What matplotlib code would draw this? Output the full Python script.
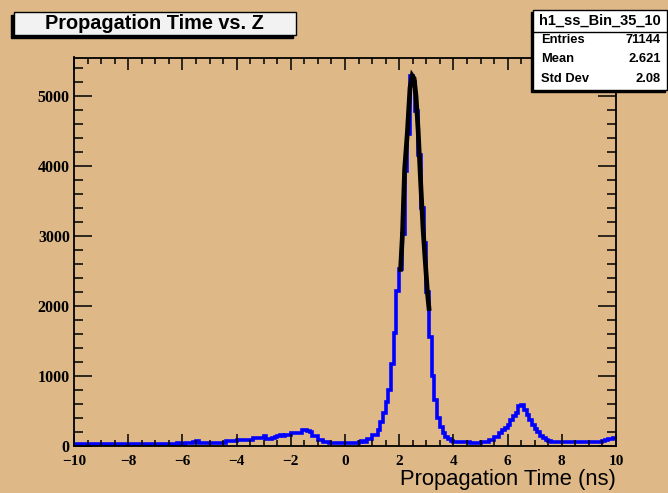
import matplotlib
matplotlib.use("Agg")
import matplotlib.pyplot as plt
from matplotlib.patches import Rectangle
from matplotlib.ticker import MultipleLocator
import numpy as np

# histogram h1_ss_Bin_35_10 : 200 bins from -10 to 10 ns
bin_lo, bin_hi, n_bins = -10.0, 10.0, 200
counts = [
    25, 28, 24, 26, 25, 27, 24, 26, 25, 28,
    26, 24, 27, 25, 26, 28, 25, 24, 27, 26,
    25, 27, 26, 24, 28, 25, 26, 27, 25, 26,
    28, 26, 25, 27, 26, 28, 27, 25, 29, 27,
    28, 30, 29, 31, 55, 58, 32, 30, 33, 31,
    32, 30, 34, 33, 35, 36, 62, 64, 63, 66,
    78, 80, 79, 82, 81, 84, 104, 106, 103, 108,
    130, 100, 98, 102, 120, 142, 145, 140, 146, 148,
    178, 182, 180, 185, 218, 222, 205, 198, 135, 132,
    80, 78, 45, 44, 32, 30, 33, 31, 34, 32,
    33, 35, 34, 36, 38, 57, 58, 56, 95, 96,
    145, 150, 215, 340, 470, 620, 800, 1170, 1610, 2210,
    2530, 3020, 3930, 4450, 5290, 5200, 4790, 4150, 3400, 2900,
    2200, 1550, 1000, 650, 400, 260, 180, 115, 90, 65,
    55, 54, 56, 53, 55, 52, 35, 33, 32, 36,
    52, 55, 54, 80, 82, 124, 128, 175, 220, 250,
    295, 365, 420, 470, 570, 575, 510, 440, 365, 300,
    240, 195, 130, 110, 80, 60, 52, 50, 53, 51,
    50, 52, 49, 51, 53, 50, 52, 48, 51, 50,
    52, 50, 53, 51, 49, 68, 72, 98, 100, 104,
]

# gaussian fit curve over the main peak
fit_x = [2.05, 2.12, 2.20, 2.30, 2.40, 2.48, 2.55, 2.62, 2.70, 2.80, 2.88, 2.95, 3.05, 3.10]
fit_y = [2520, 3020, 3950, 4470, 5120, 5290, 5250, 5000, 4500, 3700, 3100, 2700, 2150, 1960]

title = "Propagation Time vs. Z"
x_label = "Propagation Time (ns)"
stats_name = "h1_ss_Bin_35_10"
stats_rows = [("Entries", "71144"), ("Mean", "2.621"), ("Std Dev", "2.08")]

BG = "#DEB887"
W, H = 668, 493

fig = plt.figure(figsize=(W / 100, H / 100), dpi=100, facecolor=BG)


def fx(px):
    return px / W


def fy(py):
    return 1 - py / H


ax = fig.add_axes([fx(74), fy(445.5), fx(616) - fx(74), fy(57.5) - fy(445.5)])
ax.set_facecolor(BG)

edges = np.linspace(bin_lo, bin_hi, n_bins + 1)
ax.stairs(counts, edges, color="blue", lw=2.6, baseline=None)
ax.plot(fit_x, fit_y, color="black", lw=3.4, solid_joinstyle="miter")

ax.set_xlim(bin_lo, bin_hi)
ax.set_ylim(0, 5550)

ax.xaxis.set_major_locator(MultipleLocator(2))
ax.xaxis.set_minor_locator(MultipleLocator(0.5))
ax.yaxis.set_major_locator(MultipleLocator(1000))
ax.yaxis.set_minor_locator(MultipleLocator(200))

for s in ax.spines.values():
    s.set_linewidth(1.3)
    s.set_color("black")

ax.tick_params(axis="both", which="both", direction="in", top=True, right=True, colors="black")
ax.tick_params(axis="x", which="major", length=8.6, width=1.1, pad=6.5)
ax.tick_params(axis="x", which="minor", length=4.3, width=1.1)
ax.tick_params(axis="y", which="major", length=13, width=1.1, pad=3)
ax.tick_params(axis="y", which="minor", length=6.5, width=1.1)

for lab in ax.get_xticklabels() + ax.get_yticklabels():
    lab.set_fontfamily("Liberation Serif")
    lab.set_fontweight("bold")
for lab in ax.get_yticklabels():
    lab.set_fontsize(11.5)
for lab in ax.get_xticklabels():
    lab.set_fontsize(11)

ax.set_xlabel(x_label, fontsize=15.8, family="Liberation Sans", ha="right", va="top")
ax.xaxis.set_label_coords(1.0, -0.061)

# title box with shadow
fig.patches.append(Rectangle((fx(11), fy(38)), fx(282), fy(12) - fy(35), transform=fig.transFigure,
                             facecolor="black", edgecolor="black", zorder=1))
fig.patches.append(Rectangle((fx(14), fy(35)), fx(282), fy(12) - fy(35), transform=fig.transFigure,
                             facecolor="#F2F2F2", edgecolor="black", lw=1, zorder=2))
fig.text(fx(154), fy(23.5), title, ha="center", va="center", fontsize=14.3,
         family="Liberation Sans", fontweight="bold", zorder=3)

# stats box with shadow
fig.patches.append(Rectangle((fx(531), fy(92)), fx(134), fy(10) - fy(90), transform=fig.transFigure,
                             facecolor="black", edgecolor="black", zorder=1))
fig.patches.append(Rectangle((fx(533), fy(90)), fx(134), fy(10) - fy(90), transform=fig.transFigure,
                             facecolor="white", edgecolor="black", lw=1, zorder=2))
fig.add_artist(plt.Line2D([fx(533), fx(667)], [fy(32), fy(32)], color="black", lw=1, zorder=3))
fig.text(fx(600), fy(21), stats_name, ha="center", va="center", fontsize=10.5,
         family="Liberation Sans", fontweight="bold", zorder=3)
for k, (name, val) in enumerate(stats_rows):
    yy = fy(40 + 19.5 * k)
    fig.text(fx(541), yy, name, ha="left", va="center", fontsize=9.3, family="Liberation Sans",
             fontweight="bold", zorder=3)
    fig.text(fx(661), yy, val, ha="right", va="center", fontsize=9.3, family="Liberation Sans",
             fontweight="bold", zorder=3)

fig.savefig("out.png", dpi=100, facecolor=BG)
